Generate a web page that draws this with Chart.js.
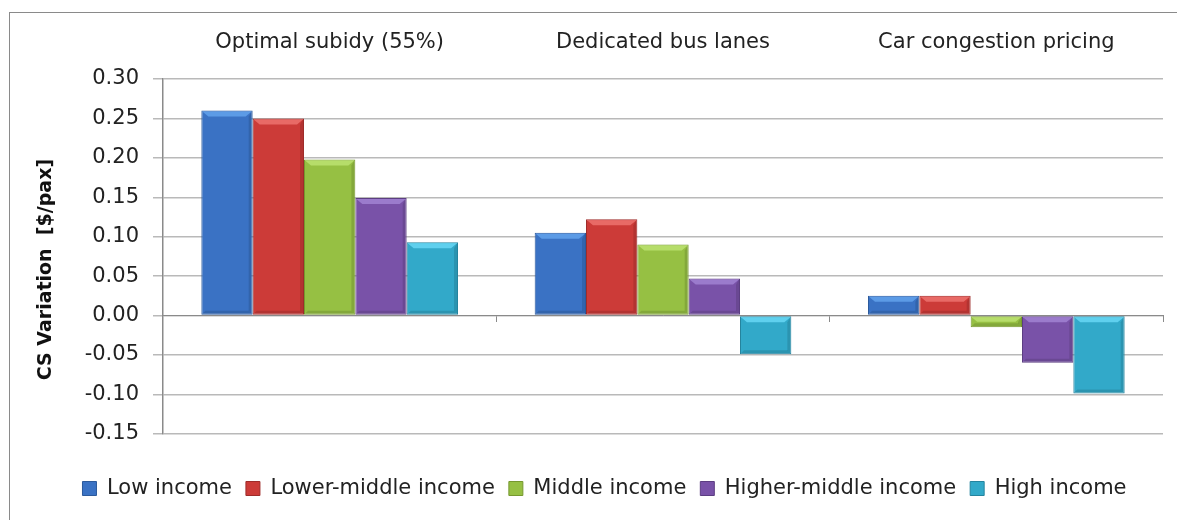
<!DOCTYPE html>
<html>
<head>
<meta charset="utf-8">
<script src="https://cdn.jsdelivr.net/npm/chart.js@4/dist/chart.umd.min.js"></script>
<style>
  html, body { margin: 0; padding: 0; background: #fff; overflow: hidden; }
  #wrap { position: relative; width: 1177px; height: 520px; }
  #frame { position: absolute; left: 9px; top: 12px; width: 1300px; height: 700px; border: 1px solid #8a8a8a; pointer-events: none; }
  canvas { position: absolute; left: 0; top: 0; }
</style>
</head>
<body>
<div id="wrap">
  <div id="frame"></div>
  <canvas id="myChart" width="1177" height="520"></canvas>
</div>
<script>
// data
var categories = ['Optimal subidy (55%)', 'Dedicated bus lanes', 'Car congestion pricing'];
var seriesNames = ['Low income', 'Lower-middle income', 'Middle income', 'Higher-middle income', 'High income'];
var lowIncome = [0.26, 0.105, 0.025];
var lowerMiddle = [0.25, 0.122, 0.025];
var middleIncome = [0.198, 0.09, -0.015];
var higherMiddle = [0.149, 0.047, -0.06];
var highIncome = [0.093, -0.049, -0.099];
var fillColors = ['#3a72c4', '#cc3b38', '#96c043', '#7952a8', '#32a9c9'];
var edgeColors = ['#2c5a9c', '#9e2c2a', '#76982f', '#5c3e82', '#25849e'];
var topColors = ['#5c9be6', '#e86a66', '#b6dd6a', '#9b7bcc', '#5fd0ee'];

var yMin = -0.15, yMax = 0.30, yStep = 0.05;

var allValues = [lowIncome, lowerMiddle, middleIncome, higherMiddle, highIncome];
var datasets = [];
for (var i = 0; i < seriesNames.length; i++) {
  datasets.push({
    label: seriesNames[i],
    data: allValues[i],
    backgroundColor: fillColors[i],
    borderColor: edgeColors[i],
    borderWidth: 1,
    borderSkipped: false,
    barPercentage: 1,
    categoryPercentage: 0.77
  });
}

// excel-ish bevel on top of each bar
var bevel = {
  id: 'bevel',
  afterDatasetsDraw: function (chart) {
    var c = chart.ctx;
    chart.data.datasets.forEach(function (ds, di) {
      var meta = chart.getDatasetMeta(di);
      meta.data.forEach(function (bar) {
        var left = bar.x - bar.width / 2, right = bar.x + bar.width / 2;
        var top = Math.min(bar.y, bar.base), bottom = Math.max(bar.y, bar.base);
        var h = bottom - top;
        var b = Math.min(6, h / 2);
        c.save();
        // top face
        c.fillStyle = topColors[di];
        c.beginPath();
        c.moveTo(left + 1, top + 1);
        c.lineTo(right - 1, top + 1);
        c.lineTo(right - 1 - b, top + b);
        c.lineTo(left + 1 + b, top + b);
        c.closePath();
        c.fill();
        // darker sides and bottom
        c.fillStyle = 'rgba(0,0,0,0.12)';
        c.beginPath();
        c.moveTo(right - 1, top + 1);
        c.lineTo(right - 1, bottom - 1);
        c.lineTo(right - 1 - 3, bottom - 1 - 3);
        c.lineTo(right - 1 - 3, top + b);
        c.closePath();
        c.fill();
        c.beginPath();
        c.moveTo(left + 1, bottom - 1);
        c.lineTo(right - 1, bottom - 1);
        c.lineTo(right - 4, bottom - 4);
        c.lineTo(left + 4, bottom - 4);
        c.closePath();
        c.fill();
        c.restore();
      });
    });
  }
};

var font = 'DejaVu Sans';

var ctx = document.getElementById('myChart').getContext('2d');
var myChart = new Chart(ctx, {
  type: 'bar',
  data: { labels: categories, datasets: datasets },
  plugins: [bevel],
  options: {
    responsive: false,
    animation: false,
    layout: { padding: { left: 46, right: 14, top: 20, bottom: 11 } },
    plugins: {
      tooltip: { enabled: false },
      legend: {
        position: 'bottom',
        title: { display: true, text: '', font: { size: 1 }, padding: { top: 29, bottom: 0 } },
        labels: {
          boxWidth: 14, boxHeight: 14, padding: 14,
          color: '#222',
          font: { family: font, size: 21 }
        }
      }
    },
    scales: {
      x: {
        position: 'top',
        grid: { display: false, drawTicks: false },
        border: { display: false },
        ticks: { color: '#222', padding: 24, font: { family: font, size: 21 } },
        afterFit: function (s) { s.height = 59; }
      },
      x2: {
        type: 'category',
        labels: categories,
        position: { y: 0 },
        offset: true,
        grid: { drawOnChartArea: false, tickLength: 6, color: '#8a8a8a' },
        border: { color: '#8a8a8a', width: 1 },
        ticks: { display: false }
      },
      y: {
        min: yMin, max: yMax,
        ticks: {
          stepSize: yStep, padding: 14, color: '#222',
          font: { family: font, size: 21 },
          callback: function (v) { return v.toFixed(2); }
        },
        grid: { color: '#b9b9b9', lineWidth: 1.5, tickLength: 10 },
        border: { color: '#8a8a8a', width: 1.5 },
        title: {
          display: true, text: 'CS Variation  [$/pax]    ', color: '#111',
          font: { family: font, size: 19, weight: 'bold' }, padding: { top: -11, bottom: 0 }
        },
        afterFit: function (s) { s.width = 163 - 46; }
      }
    }
  }
});
</script>
</body>
</html>
